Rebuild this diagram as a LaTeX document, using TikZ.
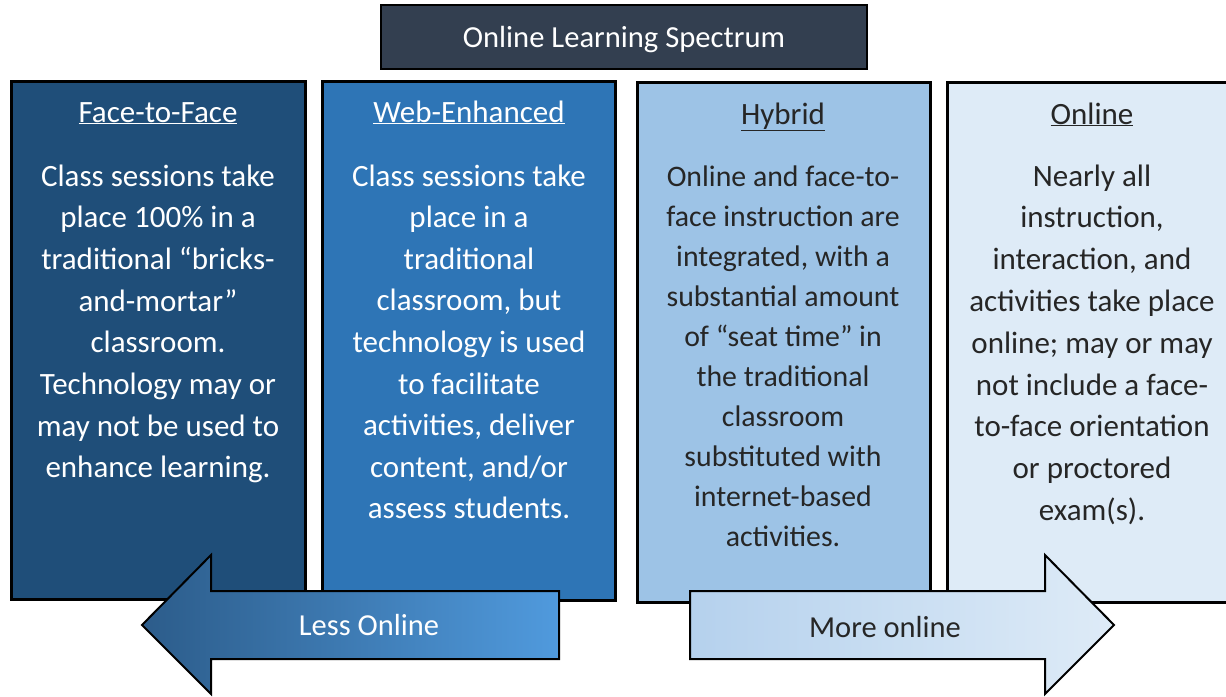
\documentclass[tikz,border=0pt]{standalone}
\usepackage{fontspec}
\setmainfont{Carlito}
\definecolor{cone}{HTML}{1F4E79}
\definecolor{ctwo}{HTML}{2E75B6}
\definecolor{cthree}{HTML}{9DC3E6}
\definecolor{cfour}{HTML}{DEEBF7}
\definecolor{ctitle}{HTML}{333F50}
\definecolor{cdark}{HTML}{262626}
\definecolor{lal}{HTML}{2C5C8A}
\definecolor{lar}{HTML}{509ADD}
\definecolor{ral}{HTML}{B5D1ED}
\definecolor{rar}{HTML}{DEEBF7}
\begin{document}
\begin{tikzpicture}[x=1pt,y=-1pt,
  colbox/.style={draw=black,line width=3pt,anchor=north west,inner sep=0pt},
  headw/.style={font=\fontsize{31}{36}\selectfont,text=white,anchor=base,inner sep=0pt},
  headd/.style={font=\fontsize{31}{36}\selectfont,text=cdark,anchor=base,inner sep=0pt},
  bodyw/.style={font=\fontsize{31}{36}\selectfont,text=white,anchor=base,inner sep=0pt},
  bodyd/.style={font=\fontsize{31}{36}\selectfont,text=cdark,anchor=base,inner sep=0pt},
  bodyh/.style={font=\fontsize{29.8}{35}\selectfont,text=cdark,anchor=base,inner sep=0pt},
  arrowshape/.style={draw=black,line width=2pt,line join=miter}
]
\useasboundingbox (0,0) rectangle (1226,696);
\clip (0,0) rectangle (1226,696);
\fill[white] (0,0) rectangle (1226,696);

% title
\node[draw=black,line width=2pt,fill=ctitle,minimum width=486,minimum height=64,inner sep=0pt] (title) at (624,37) {};
\node[text=white,font=\fontsize{30.6}{36}\selectfont,anchor=base,inner sep=0pt] (titletext) at (624,47) {Online Learning Spectrum};

% columns
\node[colbox,fill=cone,minimum width=294,minimum height=518] (ftf) at (10,80) {};
\node[colbox,fill=ctwo,minimum width=293,minimum height=519] (web) at (321,80) {};
\node[colbox,fill=cthree,minimum width=293,minimum height=520] (hyb) at (636,81) {};
\node[colbox,fill=cfour,minimum width=293,minimum height=520] (onl) at (946,81) {};

% headings
\node[headw] (ftfh) at (158,122) {\underline{Face-to-Face}};
\node[headw] (webh) at (469,122) {\underline{Web-Enhanced}};
\node[headd] (hybh) at (783,124) {\underline{Hybrid}};
\node[headd] (onlh) at (1092,124) {\underline{Online}};

% body texts
\foreach \t [count=\i from 0] in {{Class sessions take},{place 100\% in a},{traditional “bricks-},{and-mortar”},{classroom.},{Technology may or},{may not be used to},{enhance learning.}}
  \node[bodyw] (ftft\i) at (158,186+\i*41.7) {\t};

\foreach \t [count=\i from 0] in {{Class sessions take},{place in a},{traditional},{classroom, but},{technology is used},{to facilitate},{activities, deliver},{content, and/or},{assess students.}}
  \node[bodyw] (webt\i) at (469,186+\i*41.6) {\t};

\foreach \t [count=\i from 0] in {{Online and face-to-},{face instruction are},{integrated, with a},{substantial amount},{of “seat time” in},{the traditional},{classroom},{substituted with},{internet-based},{activities.}}
  \node[bodyh] (hybt\i) at (783,186+\i*40) {\t};

\foreach \t [count=\i from 0] in {{Nearly all},{instruction,},{interaction, and},{activities take place},{online; may or may},{not include a face-},{to-face orientation},{or proctored},{exam(s).}}
  \node[bodyd] (onlt\i) at (1092,186+\i*41.8) {\t};

% arrows
\shade[arrowshape,left color=lal,right color=lar]
  (142,625) -- (211,555) -- (211,591) -- (559,591) -- (559,659) -- (211,659) -- (211,694) -- cycle;
\node[font=\fontsize{30.5}{36}\selectfont,text=white,inner sep=0pt] (less) at (369,625) {Less Online};

\shade[arrowshape,left color=ral,right color=rar]
  (690,591) -- (1045,591) -- (1045,555) -- (1114,625) -- (1045,694) -- (1045,659) -- (690,659) -- cycle;
\node[font=\fontsize{30.5}{36}\selectfont,text=cdark,inner sep=0pt] (more) at (885,627) {More online};
\end{tikzpicture}
\end{document}
